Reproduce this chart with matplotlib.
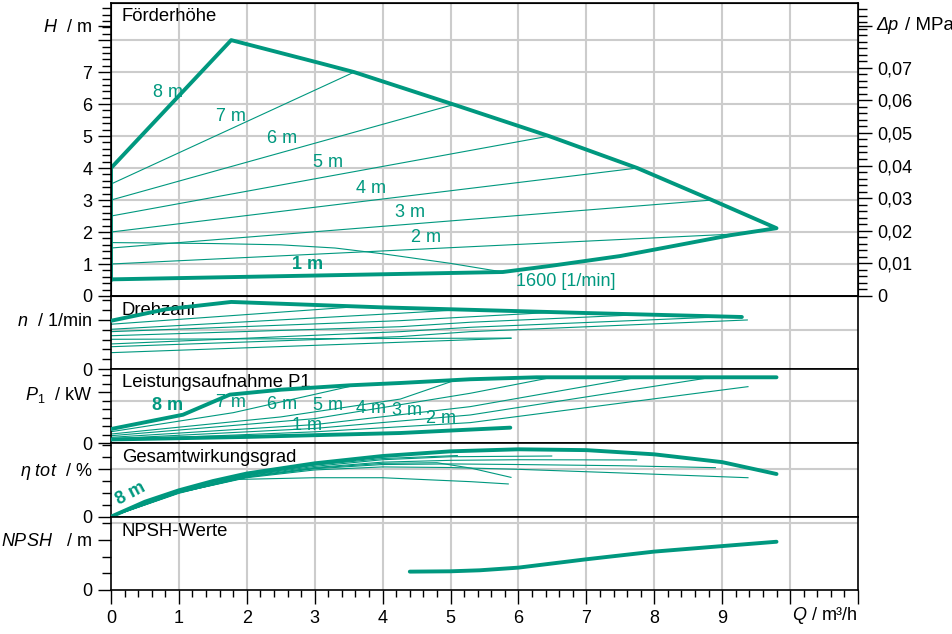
import matplotlib
matplotlib.use("Agg")
import matplotlib.pyplot as plt
from matplotlib.ticker import FixedLocator, MultipleLocator

plt.rcParams["font.family"] = "Liberation Sans"
plt.rcParams["font.size"] = 13
plt.rcParams["mathtext.fontset"] = "custom"
plt.rcParams["mathtext.rm"] = "Liberation Sans"
plt.rcParams["mathtext.it"] = "Liberation Sans:italic"
plt.rcParams["mathtext.bf"] = "Liberation Sans:bold"

TEAL = "#00987f"
GRID = "#cccccc"
W, HP = 953, 634
THICK, THIN = 2.8, 0.8

# ---- Förderhöhe (H in m over Q in m3/h)
env_q = [0, 0, 1.77, 3.08, 3.58, 5.07, 6.45, 7.75, 8.85, 9.8, 9.12, 8.3, 7.5, 6.5, 5.77, 0]
env_h = [0.52, 4.0, 8.0, 7.28, 7.0, 5.97, 5.0, 4.0, 3.0, 2.12, 1.9, 1.57, 1.25, 0.95, 0.75, 0.52]
set_names = ["7 m", "6 m", "5 m", "4 m", "3 m", "2 m"]
set_q_end = [3.58, 5.07, 6.45, 7.75, 8.85, 9.3]
set_h0 = [3.5, 3.0, 2.5, 2.0, 1.5, 1.0]
set_h1 = [7.0, 6.0, 5.0, 4.0, 3.0, 1.95]
c1600_q = [0, 1.5, 2.5, 3.3, 4.0, 5.0, 5.77]
c1600_h = [1.67, 1.64, 1.6, 1.5, 1.32, 1.02, 0.75]
h_lab_txt = ["8 m", "7 m", "6 m", "5 m", "4 m", "3 m", "2 m", "1 m"]
h_lab_q = [0.84, 1.77, 2.52, 3.20, 3.83, 4.40, 4.64, 2.89]
h_lab_h = [6.37, 5.62, 4.91, 4.16, 3.37, 2.62, 1.84, 1.0]

# ---- Drehzahl (panel units)
n_max_q = [0, 0.8, 1.77, 4.0, 7.0, 9.29]
n_max_v = [4.9, 6.05, 6.8, 6.25, 5.68, 5.28]
n_thin_q = [[0, 3.58], [0, 4.26, 5.07], [0, 4.26, 5.29, 6.45], [0, 4.26, 5.29, 7.75],
            [0, 4.26, 5.29, 8.85], [0, 4.26, 5.29, 9.37], [0, 5.89], [0, 5.89]]
n_thin_v = [[4.55, 6.3], [4.04, 5.66, 5.98], [3.80, 4.91, 5.3, 5.73], [3.39, 4.30, 4.75, 5.5],
            [2.56, 3.80, 4.24, 5.25], [2.28, 3.3, 3.8, 4.98], [3.03, 3.15], [1.68, 3.13]]

# ---- Leistungsaufnahme P1 (panel units)
p_max_q = [0, 1.06, 1.75, 2.5, 3.52, 4.26, 5.29, 6.27, 9.8]
p_max_v = [1.68, 3.36, 5.72, 6.3, 6.82, 7.09, 7.53, 7.76, 7.76]
p_min_q = [0, 2.0, 4.26, 5.0, 5.88]
p_min_v = [0.45, 0.75, 1.21, 1.5, 1.84]
p_thin_q = [[0, 1.8, 3.58], [0, 2.5, 4.26, 5.07], [0, 3.0, 5.29, 6.45], [0, 3.0, 5.29, 7.75],
            [0, 3.0, 5.29, 8.85], [0, 3.0, 5.29, 9.38]]
p_thin_v = [[1.36, 3.6, 6.8], [1.09, 3.1, 5.2, 7.42], [0.89, 2.9, 5.88, 7.68], [0.70, 2.2, 4.31, 7.76],
            [0.54, 1.75, 3.33, 7.76], [0.39, 1.35, 2.43, 6.66]]
p_lab_txt = ["8 m", "7 m", "6 m", "5 m", "4 m", "3 m", "2 m", "1 m"]
p_lab_q = [0.83, 1.77, 2.52, 3.2, 3.83, 4.36, 4.86, 2.89]
p_lab_v = [4.5, 4.74, 4.62, 4.5, 4.04, 3.85, 2.95, 2.04]

# ---- Gesamtwirkungsgrad (panel units)
e_max_q = [0, 0.5, 1, 1.5, 2, 3, 4, 5, 6, 7, 8, 9, 9.8]
e_max_v = [0, 1.25, 2.2, 2.97, 3.6, 4.45, 5.06, 5.45, 5.62, 5.55, 5.2, 4.55, 3.56]
e_thin_q = [[0, 1, 2, 3, 3.6], [0, 1, 2, 3, 4, 5.1], [0, 1, 2, 3, 4, 5, 6.49],
            [0, 1, 2, 3, 4, 5, 6, 7.74], [0, 1, 2, 3, 4, 5, 6, 7.5, 8.9],
            [0, 1, 2, 3, 4, 5, 6, 7.5, 9.38], [0, 1, 2, 3, 4, 4.8, 5.3, 5.89],
            [0, 1, 1.8, 3, 4, 5.3, 5.85]]
e_thin_v = [[0, 2.1, 3.45, 4.35, 4.7], [0, 2.1, 3.45, 4.3, 4.85, 5.1], [0, 2.1, 3.4, 4.2, 4.75, 5.0, 5.06],
            [0, 2.05, 3.35, 4.1, 4.55, 4.7, 4.75, 4.73], [0, 2.0, 3.3, 4.0, 4.35, 4.4, 4.35, 4.25, 4.09],
            [0, 2.0, 3.25, 3.9, 4.15, 4.1, 3.95, 3.65, 3.25], [0, 2.0, 3.3, 4.05, 4.45, 4.5, 4.05, 3.28],
            [0, 1.95, 3.1, 3.25, 3.25, 2.92, 2.73]]

# ---- NPSH (panel units)
npsh_q = [4.4, 5.0, 5.43, 6, 7, 8, 9, 9.8]
npsh_v = [1.1, 1.12, 1.18, 1.34, 1.84, 2.3, 2.63, 2.89]

# panel layout: (top px, bottom px, y max, gridlines, label pos, label, title, title y)
panels = [
    (2.7, 296.0, 9.17, [1, 2, 3, 4, 5, 6, 7, 8], 8.45, r"$H$  / m", "Förderhöhe", 8.73),
    (296.0, 369.3, 7.40, [4], 5, r"$n$  / 1/min", "Drehzahl", 5.89),
    (369.3, 443.3, 8.70, [5], 6, r"$P_1$  / kW", "Leistungsaufnahme P1", 7.09),
    (443.3, 516.7, 6.12, [4], 4, r"$\eta$ $tot$  / %", "Gesamtwirkungsgrad", 4.93),
    (516.7, 590.0, 4.39, [4], 3, r"$NPSH$   / m", "NPSH-Werte", 3.53),
]

fig = plt.figure(figsize=(W / 100, HP / 100), dpi=100)
axes = []
for i, (top, bot, ymax, grid_y, lab_y, lab, title, ty) in enumerate(panels):
    ax = fig.add_axes([111 / W, 1 - bot / HP, 747 / W, (bot - top) / HP])
    ax.set_xlim(0, 11)
    ax.set_ylim(0, ymax)
    for x in range(1, 11):
        ax.axvline(x, color=GRID, lw=1.5, zorder=0)
    for y in grid_y:
        ax.axhline(y, color=GRID, lw=1.5, zorder=0)
    for s in ax.spines.values():
        s.set_linewidth(1.2)
    if i == 0:
        majors = list(range(9)) + [lab_y]
        labels = [str(v) for v in range(8)] + ["", lab]
        ax.yaxis.set_minor_locator(MultipleLocator(0.2))
    else:
        majors = [0, lab_y]
        labels = ["0", lab]
        ax.yaxis.set_minor_locator(MultipleLocator(1))
    ax.yaxis.set_major_locator(FixedLocator(majors))
    ax.set_yticklabels(labels)
    ax.tick_params(axis="y", which="major", direction="out", length=9.5, width=1.0, pad=4)
    ax.tick_params(axis="y", which="minor", direction="out", length=6.5, width=1.0)
    ax.text(0.16, ty, title, ha="left", va="center", fontsize=13.3, color="black")
    axes.append(ax)
    if i < 4:
        ax.set_xticks([])

axH, axN, axP, axE, axS = axes

# bottom Q axis
axS.xaxis.set_major_locator(FixedLocator(range(12)))
axS.set_xticklabels([str(v) for v in range(10)] + ["", ""])
axS.xaxis.set_minor_locator(MultipleLocator(0.2))
axS.tick_params(axis="x", which="major", direction="out", length=10, width=1.0, pad=4.5)
axS.tick_params(axis="x", which="minor", direction="out", length=5, width=1.0)
fig.text(858 / W, 1 - 615 / HP, r"$Q$ / m³/h", ha="right", va="center", fontsize=13)

# right Δp axis (1 MPa = 101.97 m)
ax2 = axH.twinx()
ax2.set_ylim(0, 9.17 / 101.97)
ax2.yaxis.set_major_locator(FixedLocator([0, 0.01, 0.02, 0.03, 0.04, 0.05, 0.06, 0.07, 8.45 / 101.97]))
ax2.set_yticklabels(["0", "0,01", "0,02", "0,03", "0,04", "0,05", "0,06", "0,07", ""])
ax2.yaxis.set_minor_locator(MultipleLocator(0.002))
ax2.tick_params(axis="y", which="major", direction="out", length=10, width=1.0, pad=4)
ax2.tick_params(axis="y", which="minor", direction="out", length=6.5, width=1.0)
fig.text(876 / W, 1 - 26 / HP, "Δp", style="italic", ha="left", va="center", fontsize=13)
fig.text(905 / W, 1 - 26 / HP, "/ MPa", ha="left", va="center", fontsize=13.5)

# H panel curves
axH.plot(env_q, env_h, color=TEAL, lw=THICK, solid_joinstyle="round", zorder=3)
for q1, h0, h1 in zip(set_q_end, set_h0, set_h1):
    axH.plot([0, q1], [h0, h1], color=TEAL, lw=THIN, zorder=2)
axH.plot(c1600_q, c1600_h, color=TEAL, lw=THIN, zorder=2)
for t, q, h in zip(h_lab_txt, h_lab_q, h_lab_h):
    axH.text(q, h, t, color=TEAL, ha="center", va="center", fontsize=13,
             fontweight="bold" if t == "1 m" else "normal")
axH.text(5.96, 0.44, "1600 [1/min]", color=TEAL, ha="left", va="center", fontsize=13)

# Drehzahl
axN.plot(n_max_q, n_max_v, color=TEAL, lw=THICK, solid_capstyle="round", zorder=3)
for q, v in zip(n_thin_q, n_thin_v):
    axN.plot(q, v, color=TEAL, lw=THIN, zorder=2)

# Leistungsaufnahme
axP.plot(p_max_q, p_max_v, color=TEAL, lw=THICK, solid_capstyle="round", zorder=3)
axP.plot(p_min_q, p_min_v, color=TEAL, lw=THICK, solid_capstyle="round", zorder=3)
for q, v in zip(p_thin_q, p_thin_v):
    axP.plot(q, v, color=TEAL, lw=THIN, zorder=2)
for t, q, v in zip(p_lab_txt, p_lab_q, p_lab_v):
    axP.text(q, v, t, color=TEAL, ha="center", va="center", fontsize=13,
             fontweight="bold" if t == "8 m" else "normal")

# Gesamtwirkungsgrad
axE.plot(e_max_q, e_max_v, color=TEAL, lw=THICK, solid_capstyle="round", zorder=3)
for q, v in zip(e_thin_q, e_thin_v):
    axE.plot(q, v, color=TEAL, lw=THIN, zorder=2)
axE.text(0.29, 1.89, "8 m", color=TEAL, ha="center", va="center", fontsize=13,
         fontweight="bold", rotation=28)

# NPSH
axS.plot(npsh_q, npsh_v, color=TEAL, lw=THICK, solid_capstyle="round", zorder=3)

fig.savefig("out.png", dpi=100)
